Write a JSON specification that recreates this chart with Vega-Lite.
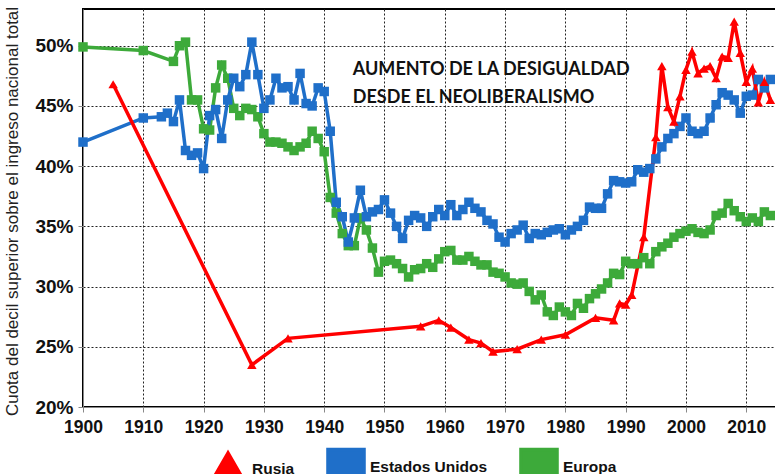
{
  "$schema": "https://vega.github.io/schema/vega-lite/v6.json",
  "width": 693,
  "height": 398,
  "autosize": {"type": "none"},
  "padding": {"left": 83, "top": 9, "right": 0, "bottom": 67},
  "background": "white",
  "config": {
    "view": {"stroke": "#000", "strokeWidth": 2}
  },
  "data": {"values": [
    {"serie":"Europa","year":1900,"pct":49.9},{"serie":"Europa","year":1910,"pct":49.6},{"serie":"Europa","year":1915,"pct":48.7},{"serie":"Europa","year":1916,"pct":50.0},{"serie":"Europa","year":1917,"pct":50.3},{"serie":"Europa","year":1918,"pct":45.5},{"serie":"Europa","year":1919,"pct":45.5},{"serie":"Europa","year":1920,"pct":43.1},{"serie":"Europa","year":1921,"pct":43.0},{"serie":"Europa","year":1922,"pct":46.5},{"serie":"Europa","year":1923,"pct":48.4},{"serie":"Europa","year":1924,"pct":47.3},{"serie":"Europa","year":1925,"pct":44.8},{"serie":"Europa","year":1926,"pct":44.2},{"serie":"Europa","year":1927,"pct":44.8},{"serie":"Europa","year":1928,"pct":44.7},{"serie":"Europa","year":1929,"pct":44.1},{"serie":"Europa","year":1930,"pct":42.7},{"serie":"Europa","year":1931,"pct":42.0},{"serie":"Europa","year":1932,"pct":42.0},{"serie":"Europa","year":1933,"pct":41.9},{"serie":"Europa","year":1934,"pct":41.6},{"serie":"Europa","year":1935,"pct":41.3},{"serie":"Europa","year":1936,"pct":41.6},{"serie":"Europa","year":1937,"pct":41.9},{"serie":"Europa","year":1938,"pct":42.9},{"serie":"Europa","year":1939,"pct":42.3},{"serie":"Europa","year":1940,"pct":41.2},{"serie":"Europa","year":1941,"pct":37.4},{"serie":"Europa","year":1942,"pct":36.1},{"serie":"Europa","year":1943,"pct":34.4},{"serie":"Europa","year":1944,"pct":33.4},{"serie":"Europa","year":1945,"pct":33.4},{"serie":"Europa","year":1946,"pct":35.7},{"serie":"Europa","year":1947,"pct":34.7},{"serie":"Europa","year":1948,"pct":33.2},{"serie":"Europa","year":1949,"pct":31.2},{"serie":"Europa","year":1950,"pct":32.1},{"serie":"Europa","year":1951,"pct":32.2},{"serie":"Europa","year":1952,"pct":31.9},{"serie":"Europa","year":1953,"pct":31.5},{"serie":"Europa","year":1954,"pct":30.8},{"serie":"Europa","year":1955,"pct":31.4},{"serie":"Europa","year":1956,"pct":31.5},{"serie":"Europa","year":1957,"pct":31.9},{"serie":"Europa","year":1958,"pct":31.6},{"serie":"Europa","year":1959,"pct":32.3},{"serie":"Europa","year":1960,"pct":32.9},{"serie":"Europa","year":1961,"pct":33.0},{"serie":"Europa","year":1962,"pct":32.2},{"serie":"Europa","year":1963,"pct":32.2},{"serie":"Europa","year":1964,"pct":32.5},{"serie":"Europa","year":1965,"pct":32.1},{"serie":"Europa","year":1966,"pct":31.8},{"serie":"Europa","year":1967,"pct":31.8},{"serie":"Europa","year":1968,"pct":31.2},{"serie":"Europa","year":1969,"pct":31.1},{"serie":"Europa","year":1970,"pct":30.8},{"serie":"Europa","year":1971,"pct":30.3},{"serie":"Europa","year":1972,"pct":30.2},{"serie":"Europa","year":1973,"pct":30.3},{"serie":"Europa","year":1974,"pct":29.6},{"serie":"Europa","year":1975,"pct":28.9},{"serie":"Europa","year":1976,"pct":29.3},{"serie":"Europa","year":1977,"pct":27.9},{"serie":"Europa","year":1978,"pct":27.6},{"serie":"Europa","year":1979,"pct":28.3},{"serie":"Europa","year":1980,"pct":27.9},{"serie":"Europa","year":1981,"pct":27.6},{"serie":"Europa","year":1982,"pct":28.6},{"serie":"Europa","year":1983,"pct":28.2},{"serie":"Europa","year":1984,"pct":29.0},{"serie":"Europa","year":1985,"pct":29.4},{"serie":"Europa","year":1986,"pct":29.8},{"serie":"Europa","year":1987,"pct":30.3},{"serie":"Europa","year":1988,"pct":31.1},{"serie":"Europa","year":1989,"pct":31.0},{"serie":"Europa","year":1990,"pct":32.1},{"serie":"Europa","year":1991,"pct":31.9},{"serie":"Europa","year":1992,"pct":31.9},{"serie":"Europa","year":1993,"pct":32.4},{"serie":"Europa","year":1994,"pct":31.9},{"serie":"Europa","year":1995,"pct":32.9},{"serie":"Europa","year":1996,"pct":33.3},{"serie":"Europa","year":1997,"pct":33.6},{"serie":"Europa","year":1998,"pct":34.1},{"serie":"Europa","year":1999,"pct":34.4},{"serie":"Europa","year":2000,"pct":34.6},{"serie":"Europa","year":2001,"pct":34.8},{"serie":"Europa","year":2002,"pct":34.5},{"serie":"Europa","year":2003,"pct":34.4},{"serie":"Europa","year":2004,"pct":34.7},{"serie":"Europa","year":2005,"pct":35.9},{"serie":"Europa","year":2006,"pct":36.1},{"serie":"Europa","year":2007,"pct":36.9},{"serie":"Europa","year":2008,"pct":36.3},{"serie":"Europa","year":2009,"pct":35.8},{"serie":"Europa","year":2010,"pct":35.4},{"serie":"Europa","year":2011,"pct":35.7},{"serie":"Europa","year":2012,"pct":35.4},{"serie":"Europa","year":2013,"pct":36.2},{"serie":"Europa","year":2014,"pct":35.9},
    {"serie":"Estados Unidos","year":1900,"pct":42.0},{"serie":"Estados Unidos","year":1910,"pct":44.0},{"serie":"Estados Unidos","year":1913,"pct":44.1},{"serie":"Estados Unidos","year":1914,"pct":44.4},{"serie":"Estados Unidos","year":1915,"pct":43.7},{"serie":"Estados Unidos","year":1916,"pct":45.5},{"serie":"Estados Unidos","year":1917,"pct":41.3},{"serie":"Estados Unidos","year":1918,"pct":40.9},{"serie":"Estados Unidos","year":1919,"pct":41.1},{"serie":"Estados Unidos","year":1920,"pct":39.8},{"serie":"Estados Unidos","year":1921,"pct":44.2},{"serie":"Estados Unidos","year":1922,"pct":44.7},{"serie":"Estados Unidos","year":1923,"pct":42.3},{"serie":"Estados Unidos","year":1924,"pct":45.5},{"serie":"Estados Unidos","year":1925,"pct":47.3},{"serie":"Estados Unidos","year":1926,"pct":46.6},{"serie":"Estados Unidos","year":1927,"pct":47.6},{"serie":"Estados Unidos","year":1928,"pct":50.3},{"serie":"Estados Unidos","year":1929,"pct":47.6},{"serie":"Estados Unidos","year":1930,"pct":44.8},{"serie":"Estados Unidos","year":1931,"pct":45.5},{"serie":"Estados Unidos","year":1932,"pct":47.3},{"serie":"Estados Unidos","year":1933,"pct":46.5},{"serie":"Estados Unidos","year":1934,"pct":46.6},{"serie":"Estados Unidos","year":1935,"pct":45.5},{"serie":"Estados Unidos","year":1936,"pct":47.7},{"serie":"Estados Unidos","year":1937,"pct":45.2},{"serie":"Estados Unidos","year":1938,"pct":45.0},{"serie":"Estados Unidos","year":1939,"pct":46.5},{"serie":"Estados Unidos","year":1940,"pct":46.2},{"serie":"Estados Unidos","year":1941,"pct":42.9},{"serie":"Estados Unidos","year":1942,"pct":37.0},{"serie":"Estados Unidos","year":1943,"pct":35.8},{"serie":"Estados Unidos","year":1944,"pct":33.7},{"serie":"Estados Unidos","year":1945,"pct":35.7},{"serie":"Estados Unidos","year":1946,"pct":38.0},{"serie":"Estados Unidos","year":1947,"pct":35.8},{"serie":"Estados Unidos","year":1948,"pct":36.2},{"serie":"Estados Unidos","year":1949,"pct":36.4},{"serie":"Estados Unidos","year":1950,"pct":37.2},{"serie":"Estados Unidos","year":1951,"pct":36.1},{"serie":"Estados Unidos","year":1952,"pct":35.0},{"serie":"Estados Unidos","year":1953,"pct":34.0},{"serie":"Estados Unidos","year":1954,"pct":35.5},{"serie":"Estados Unidos","year":1955,"pct":35.9},{"serie":"Estados Unidos","year":1956,"pct":35.7},{"serie":"Estados Unidos","year":1957,"pct":35.0},{"serie":"Estados Unidos","year":1958,"pct":35.8},{"serie":"Estados Unidos","year":1959,"pct":36.4},{"serie":"Estados Unidos","year":1960,"pct":35.9},{"serie":"Estados Unidos","year":1961,"pct":36.8},{"serie":"Estados Unidos","year":1962,"pct":35.9},{"serie":"Estados Unidos","year":1963,"pct":36.4},{"serie":"Estados Unidos","year":1964,"pct":37.0},{"serie":"Estados Unidos","year":1965,"pct":36.5},{"serie":"Estados Unidos","year":1966,"pct":36.2},{"serie":"Estados Unidos","year":1967,"pct":35.5},{"serie":"Estados Unidos","year":1968,"pct":35.2},{"serie":"Estados Unidos","year":1969,"pct":34.1},{"serie":"Estados Unidos","year":1970,"pct":33.7},{"serie":"Estados Unidos","year":1971,"pct":34.4},{"serie":"Estados Unidos","year":1972,"pct":34.7},{"serie":"Estados Unidos","year":1973,"pct":35.1},{"serie":"Estados Unidos","year":1974,"pct":34.0},{"serie":"Estados Unidos","year":1975,"pct":34.4},{"serie":"Estados Unidos","year":1976,"pct":34.3},{"serie":"Estados Unidos","year":1977,"pct":34.5},{"serie":"Estados Unidos","year":1978,"pct":34.7},{"serie":"Estados Unidos","year":1979,"pct":34.8},{"serie":"Estados Unidos","year":1980,"pct":34.3},{"serie":"Estados Unidos","year":1981,"pct":34.7},{"serie":"Estados Unidos","year":1982,"pct":35.0},{"serie":"Estados Unidos","year":1983,"pct":35.5},{"serie":"Estados Unidos","year":1984,"pct":36.6},{"serie":"Estados Unidos","year":1985,"pct":36.5},{"serie":"Estados Unidos","year":1986,"pct":36.5},{"serie":"Estados Unidos","year":1987,"pct":37.7},{"serie":"Estados Unidos","year":1988,"pct":38.8},{"serie":"Estados Unidos","year":1989,"pct":38.7},{"serie":"Estados Unidos","year":1990,"pct":38.6},{"serie":"Estados Unidos","year":1991,"pct":38.7},{"serie":"Estados Unidos","year":1992,"pct":39.7},{"serie":"Estados Unidos","year":1993,"pct":39.5},{"serie":"Estados Unidos","year":1994,"pct":39.8},{"serie":"Estados Unidos","year":1995,"pct":40.6},{"serie":"Estados Unidos","year":1996,"pct":41.6},{"serie":"Estados Unidos","year":1997,"pct":42.3},{"serie":"Estados Unidos","year":1998,"pct":42.7},{"serie":"Estados Unidos","year":1999,"pct":43.3},{"serie":"Estados Unidos","year":2000,"pct":44.0},{"serie":"Estados Unidos","year":2001,"pct":42.9},{"serie":"Estados Unidos","year":2002,"pct":42.7},{"serie":"Estados Unidos","year":2003,"pct":42.9},{"serie":"Estados Unidos","year":2004,"pct":44.0},{"serie":"Estados Unidos","year":2005,"pct":45.1},{"serie":"Estados Unidos","year":2006,"pct":46.1},{"serie":"Estados Unidos","year":2007,"pct":45.9},{"serie":"Estados Unidos","year":2008,"pct":45.5},{"serie":"Estados Unidos","year":2009,"pct":44.4},{"serie":"Estados Unidos","year":2010,"pct":45.8},{"serie":"Estados Unidos","year":2011,"pct":45.9},{"serie":"Estados Unidos","year":2012,"pct":47.2},{"serie":"Estados Unidos","year":2013,"pct":46.5},{"serie":"Estados Unidos","year":2014,"pct":47.2},
    {"serie":"Rusia","year":1905,"pct":46.8},{"serie":"Rusia","year":1928,"pct":23.5},{"serie":"Rusia","year":1934,"pct":25.7},{"serie":"Rusia","year":1956,"pct":26.7},{"serie":"Rusia","year":1959,"pct":27.2},{"serie":"Rusia","year":1961,"pct":26.6},{"serie":"Rusia","year":1964,"pct":25.6},{"serie":"Rusia","year":1966,"pct":25.3},{"serie":"Rusia","year":1968,"pct":24.6},{"serie":"Rusia","year":1972,"pct":24.8},{"serie":"Rusia","year":1976,"pct":25.6},{"serie":"Rusia","year":1980,"pct":26.0},{"serie":"Rusia","year":1985,"pct":27.4},{"serie":"Rusia","year":1988,"pct":27.2},{"serie":"Rusia","year":1989,"pct":28.6},{"serie":"Rusia","year":1990,"pct":28.5},{"serie":"Rusia","year":1991,"pct":29.3},{"serie":"Rusia","year":1993,"pct":34.1},{"serie":"Rusia","year":1995,"pct":42.4},{"serie":"Rusia","year":1996,"pct":48.3},{"serie":"Rusia","year":1997,"pct":44.9},{"serie":"Rusia","year":1998,"pct":43.7},{"serie":"Rusia","year":1999,"pct":45.8},{"serie":"Rusia","year":2000,"pct":48.0},{"serie":"Rusia","year":2001,"pct":49.5},{"serie":"Rusia","year":2002,"pct":47.7},{"serie":"Rusia","year":2003,"pct":48.1},{"serie":"Rusia","year":2004,"pct":48.3},{"serie":"Rusia","year":2005,"pct":47.3},{"serie":"Rusia","year":2006,"pct":49.1},{"serie":"Rusia","year":2007,"pct":49.0},{"serie":"Rusia","year":2008,"pct":52.0},{"serie":"Rusia","year":2009,"pct":49.4},{"serie":"Rusia","year":2010,"pct":47.0},{"serie":"Rusia","year":2011,"pct":48.1},{"serie":"Rusia","year":2012,"pct":45.3},{"serie":"Rusia","year":2013,"pct":47.0},{"serie":"Rusia","year":2014,"pct":45.5},
    {"serie":"nota","year":1944.75,"pct":47.57,"label":"AUMENTO DE LA DESIGUALDAD"},{"serie":"nota","year":1944.75,"pct":45.24,"label":"DESDE EL NEOLIBERALISMO"}
  ]},
  "encoding": {
    "x": {
      "field": "year", "type": "quantitative",
      "scale": {"domain": [1900, 2014.93], "nice": false, "zero": false},
      "axis": {
        "title": null, "values": [1900,1910,1920,1930,1940,1950,1960,1970,1980,1990,2000,2010],
        "grid": true, "gridColor": "#222", "gridDash": [2, 2], "format": "d", "labelFlush": false,
        "labelFont": "Liberation Sans, Arial, sans-serif", "labelColor": "#111",
        "labelFontWeight": "bold", "labelFontSize": 17.5, "labelPadding": 6
      }
    },
    "y": {
      "field": "pct", "type": "quantitative",
      "scale": {"domain": [20, 53.05], "nice": false, "zero": false},
      "axis": {
        "values": [20,25,30,35,40,45,50], "labelExpr": "datum.value + '%'",
        "grid": true, "gridColor": "#222", "gridDash": [2, 2],
        "labelFont": "Liberation Sans, Arial, sans-serif", "labelFontWeight": "bold", "labelFontSize": 19, "labelColor": "#111",
        "labelPadding": 5,
        "title": "Cuota del decil superior sobre el ingreso nacional total", "titleColor": "#222",
        "titleFont": "Liberation Sans, Arial, sans-serif", "titleFontWeight": "normal", "titleFontSize": 17,
        "titleAngle": -90, "titleAlign": "center", "titleBaseline": "alphabetic",
        "titleX": -66, "titleY": 202
      }
    }
  },
  "layer": [
    {
      "transform": [{"filter": "datum.serie !== 'nota'"}],
      "mark": {"type": "line", "strokeWidth": 3.5},
      "encoding": {"color": {"field": "serie", "type": "nominal",
        "scale": {"domain": ["Rusia", "Estados Unidos", "Europa"], "range": ["#FF0000", "#1F6FC9", "#3DAA3A"]},
        "legend": {"title": null, "orient": "none", "direction": "horizontal", "legendX": 125, "legendY": 438,
          "symbolType": "M-1,0H1M-0.18,-0.18H0.18V0.18H-0.18Z", "symbolSize": 1300, "symbolStrokeWidth": 3.5,
          "labelFont": "Liberation Sans, Arial, sans-serif", "labelFontWeight": "bold",
          "labelFontSize": 15.5, "labelColor": "#111", "columnPadding": 25}}}
    },
    {
      "transform": [{"filter": "datum.serie !== 'nota'"}],
      "mark": {"type": "point", "filled": true, "size": 90, "opacity": 1},
      "encoding": {
        "color": {"field": "serie", "type": "nominal",
          "scale": {"domain": ["Rusia", "Estados Unidos", "Europa"], "range": ["#FF0000", "#1F6FC9", "#3DAA3A"]},
          "legend": {"title": null, "orient": "none", "direction": "horizontal", "legendX": 125, "legendY": 438,
            "symbolType": "M-1,0H1M-0.18,-0.18H0.18V0.18H-0.18Z", "symbolSize": 1300, "symbolStrokeWidth": 3.5,
            "labelFont": "Liberation Sans, Arial, sans-serif", "labelFontWeight": "bold",
            "labelFontSize": 15.5, "labelColor": "#111", "columnPadding": 25}},
        "shape": {"field": "serie", "type": "nominal",
          "scale": {"domain": ["Rusia", "Estados Unidos", "Europa"], "range": ["triangle-up", "square", "square"]},
          "legend": null}
      }
    },
    {
      "transform": [{"filter": "datum.serie === 'nota'"}],
      "mark": {"type": "text", "align": "left", "baseline": "alphabetic", "font": "Lato, Open Sans, sans-serif", "fontWeight": "bold", "fontSize": 18, "color": "#111"},
      "encoding": {"text": {"field": "label"}}
    }
  ]
}
